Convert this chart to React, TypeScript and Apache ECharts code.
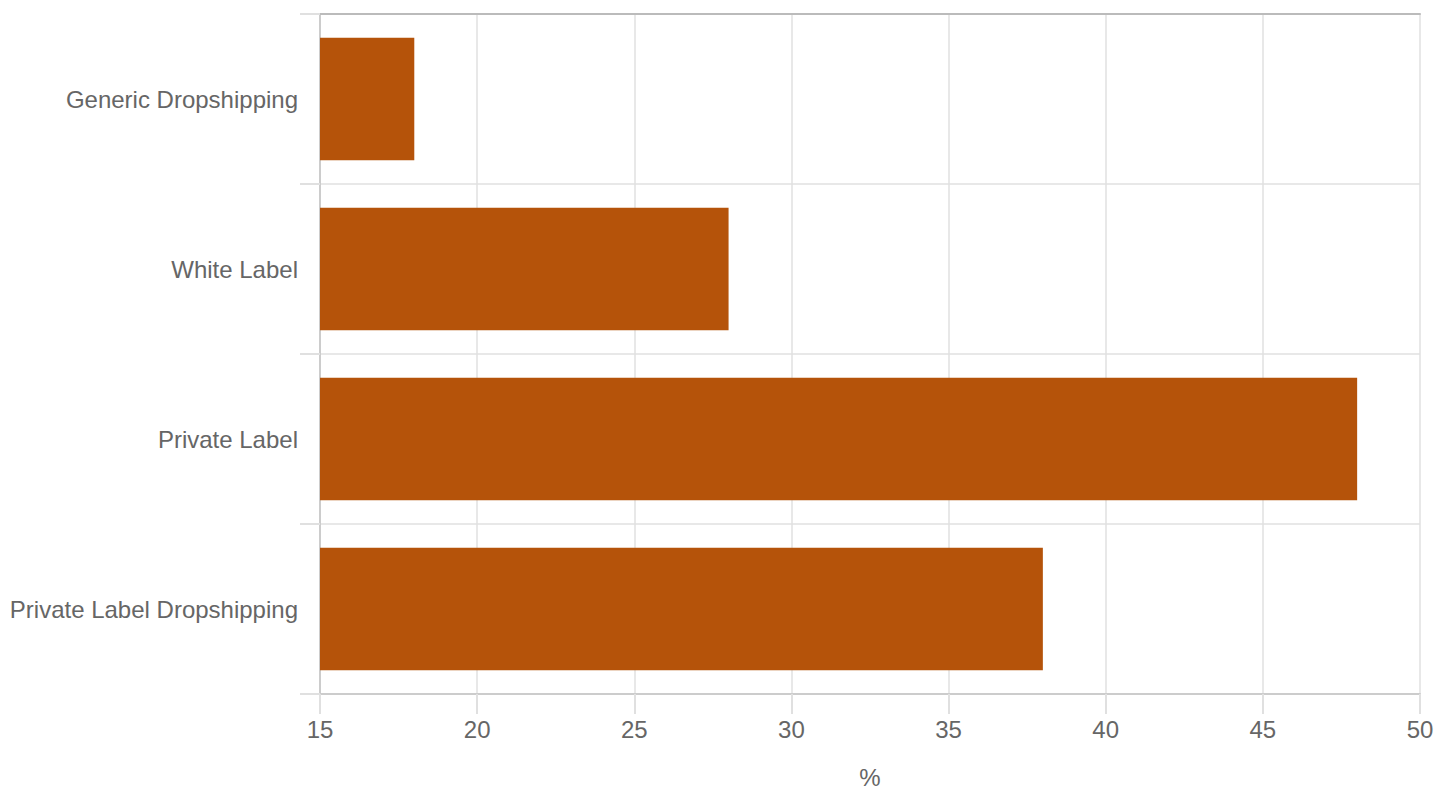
import { useEffect, useRef } from "react";
import * as echarts from "echarts";

const categories = [
  "Generic Dropshipping",
  "White Label",
  "Private Label",
  "Private Label Dropshipping",
];
const shares = [18, 28, 48, 38];
const axisName = "%";

const FONT = "'Liberation Sans', Arial, sans-serif";

export default function App() {
  const chartRef = useRef<HTMLDivElement>(null);

  useEffect(() => {
    document.body.style.margin = "0";
    if (!chartRef.current) return;
    const chart = echarts.init(chartRef.current, undefined, { renderer: "svg" });

    const option = {
      animation: false,
      textStyle: { fontFamily: FONT },
      grid: { left: 320, right: 20, top: 14, bottom: 106 },
      xAxis: [
        {
          type: "value",
          min: 15,
          max: 50,
          interval: 5,
          name: axisName,
          nameLocation: "middle",
          nameGap: 71,
          nameTextStyle: { color: "#666", fontSize: 24, fontFamily: FONT },
          axisLine: { show: true, lineStyle: { color: "#ccc", width: 2 } },
          axisTick: { show: true, length: 20, lineStyle: { color: "#e0e0e0", width: 2 } },
          axisLabel: { color: "#666", fontSize: 24, margin: 23, fontFamily: FONT },
          splitLine: { show: true, lineStyle: { color: "#e0e0e0", width: 1.5 } },
        },
        {
          type: "value",
          position: "top",
          min: 15,
          max: 50,
          axisLine: { show: true, lineStyle: { color: "#bbb", width: 2 } },
          axisTick: { show: false },
          axisLabel: { show: false },
          splitLine: { show: false },
        },
      ],
      yAxis: {
        type: "category",
        data: categories,
        inverse: true,
        axisLine: { show: true, lineStyle: { color: "#ccc", width: 2 } },
        axisTick: { show: true, length: 20, lineStyle: { color: "#e0e0e0", width: 2 } },
        axisLabel: { color: "#666", fontSize: 24, margin: 22, fontFamily: FONT },
        splitLine: { show: true, lineStyle: { color: "#e0e0e0", width: 1.5 } },
      },
      series: [
        {
          type: "bar",
          data: shares,
          barCategoryGap: "28%",
          itemStyle: { color: "#b5530a" },
        },
      ],
    };

    chart.setOption(option);
    const onResize = () => chart.resize();
    window.addEventListener("resize", onResize);
    return () => {
      window.removeEventListener("resize", onResize);
      chart.dispose();
    };
  }, []);

  return <div ref={chartRef} style={{ width: "1440px", height: "800px" }} />;
}
